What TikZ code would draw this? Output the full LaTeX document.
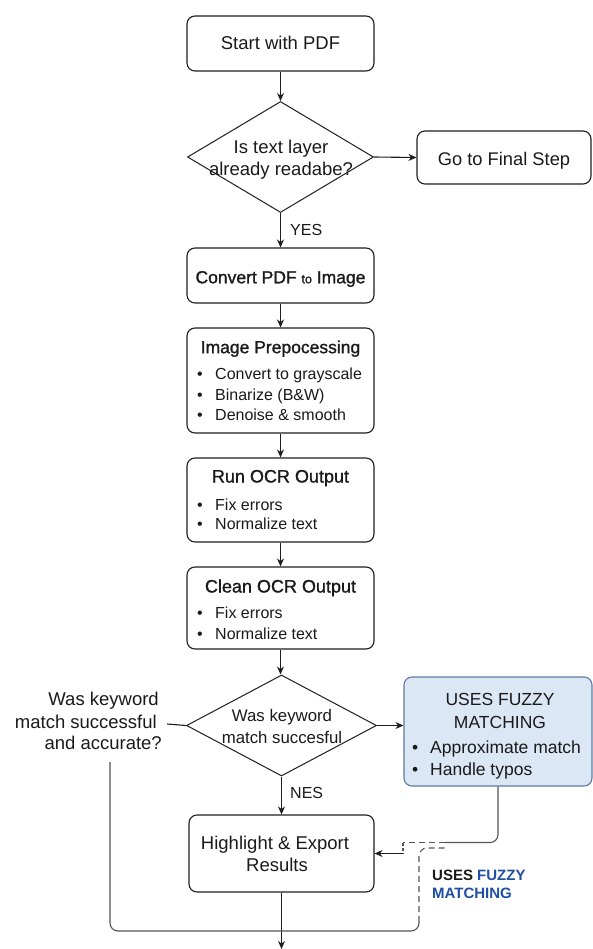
\documentclass[tikz,border=0pt]{standalone}
\usepackage{fontspec}
\setmainfont{Liberation Sans}
\newfontfamily\semib[FakeBold=1.2]{Liberation Sans}
\usetikzlibrary{shapes.geometric,arrows.meta}
\definecolor{lc}{HTML}{1E1E1E}
\definecolor{tc}{HTML}{1A1A1A}
\definecolor{fzfill}{HTML}{DCE7F5}
\definecolor{fzdraw}{HTML}{5C7BA0}
\definecolor{fzblue}{HTML}{1F4FA0}
\definecolor{gl}{HTML}{555555}
\begin{document}
\begin{tikzpicture}[x=1pt,y=-1pt,
  box/.style={draw=lc, line width=1.1pt, rounded corners=8pt, fill=white, inner sep=0pt},
  dia/.style={draw=lc, line width=1pt, shape=diamond, inner sep=0pt},
  arr/.style={draw=lc, line width=1.1pt, -{Stealth[length=8pt,width=7pt]}},
  tx/.style={inner sep=0pt, anchor=base, text=tc},
  fsz/.style={font=\fontsize{#1}{#1}\selectfont},
  glline/.style={draw=gl, line width=1.1pt, rounded corners=8pt},
  gldash/.style={draw=gl, line width=1.1pt, rounded corners=8pt, dash pattern=on 6pt off 4pt}
]
\useasboundingbox (0,0) rectangle (593,949);

% boxes
\node[box, minimum width=187pt, minimum height=55pt] (start) at (280.5,43.5) {};
\node[dia, minimum width=186pt, minimum height=111pt] (d1) at (280.5,157) {};
\node[box, minimum width=174pt, minimum height=53pt] (go) at (504,157.5) {};
\node[box, minimum width=187pt, minimum height=55pt] (conv) at (280.5,275.5) {};
\node[box, minimum width=187pt, minimum height=105pt] (ip) at (280.5,380.5) {};
\node[box, minimum width=187pt, minimum height=84pt] (run) at (280.5,500) {};
\node[box, minimum width=187pt, minimum height=82pt] (clean) at (280.5,608) {};
\node[dia, minimum width=190pt, minimum height=101pt] (d2) at (281.5,725.5) {};
\node[box, minimum width=185pt, minimum height=77pt] (hl) at (281.5,853.5) {};
\node[box, draw=fzdraw, fill=fzfill, minimum width=188pt, minimum height=109pt] (fz) at (498,731.5) {};

% texts
\node[tx, fsz=18.5] (tstart) at (280.5,50) {Start with PDF};
\node[tx, fsz=18.5] (td1a) at (281,153.6) {Is text layer};
\node[tx, fsz=18.5] (td1b) at (281,175.6) {already readabe?};
\node[tx, fsz=18.3] (tgo) at (504,165.6) {Go to Final Step};
\node[tx, fsz=16, anchor=base west] (tyes) at (290,235.7) {YES};
\node[tx, fsz=17.5] (tconv) at (280.5,283.3) {\semib Convert PDF {\fontsize{12.5}{12.5}\selectfont to} Image};

\node[tx, fsz=17.5] (tip) at (280.5,353.2) {\semib Image Prepocessing};
\node[tx, fsz=16, anchor=base west] (bip1) at (197,379.8) {•};
\node[tx, fsz=16, anchor=base west] (tip1) at (215,379.8) {Convert to grayscale};
\node[tx, fsz=16, anchor=base west] (bip2) at (197,400.5) {•};
\node[tx, fsz=16, anchor=base west] (tip2) at (215,400.5) {Binarize (B\&W)};
\node[tx, fsz=16, anchor=base west] (bip3) at (197,420.8) {•};
\node[tx, fsz=16, anchor=base west] (tip3) at (215,420.8) {Denoise \& smooth};

\node[tx, fsz=18] (trun) at (280.5,482.5) {\semib Run OCR Output};
\node[tx, fsz=16, anchor=base west] (brun1) at (197,510.8) {•};
\node[tx, fsz=16, anchor=base west] (trun1) at (215,510.8) {Fix errors};
\node[tx, fsz=16, anchor=base west] (brun2) at (197,529.8) {•};
\node[tx, fsz=16, anchor=base west] (trun2) at (215,529.8) {Normalize text};

\node[tx, fsz=18] (tclean) at (280.5,592.5) {\semib Clean OCR Output};
\node[tx, fsz=16, anchor=base west] (bcl1) at (197,618.8) {•};
\node[tx, fsz=16, anchor=base west] (tcl1) at (215,618.8) {Fix errors};
\node[tx, fsz=16, anchor=base west] (bcl2) at (197,639.8) {•};
\node[tx, fsz=16, anchor=base west] (tcl2) at (215,639.8) {Normalize text};

\node[tx, fsz=16.8] (td2a) at (282,721) {Was keyword};
\node[tx, fsz=16.8] (td2b) at (282,743) {match succesful};

\node[tx, fsz=18.5, anchor=base east] (ll1) at (159,705.6) {Was keyword};
\node[tx, fsz=18.5, anchor=base east] (ll2) at (157,728.6) {match successful};
\node[tx, fsz=18.5, anchor=base east] (ll3) at (162,749.6) {and accurate?};

\node[tx, fsz=16, anchor=base west] (tnes) at (290,798.8) {NES};

\node[tx, fsz=17.5] (tfz1) at (500,705.3) {USES FUZZY};
\node[tx, fsz=17.5] (tfz2) at (500,728.3) {MATCHING};
\node[tx, fsz=17.5, anchor=base west] (bfz1) at (412,753.3) {•};
\node[tx, fsz=17.5, anchor=base west] (tfz3) at (430,753.3) {Approximate match};
\node[tx, fsz=17.5, anchor=base west] (bfz2) at (412,775.3) {•};
\node[tx, fsz=17.5, anchor=base west] (tfz4) at (430,775.3) {Handle typos};

\node[tx, fsz=18.5] (thl1) at (275,849.6) {Highlight \& Export};
\node[tx, fsz=18.5] (thl2) at (277,871.6) {Results};

\node[tx, fsz=15, anchor=base west] (uf1) at (432,880.4) {\bfseries USES \textcolor{fzblue}{FUZZY}};
\node[tx, fsz=15, anchor=base west, text=fzblue] (uf2) at (432,898.4) {\bfseries MATCHING};

% connectors
\draw[arr] (start.south) -- (d1.north);
\draw[arr] (d1.east) -- (go.west);
\draw[arr] (d1.south) -- (conv.north);
\draw[arr] (conv.south) -- (ip.north);
\draw[arr] (ip.south) -- (run.north);
\draw[arr] (run.south) -- (clean.north);
\draw[arr] (clean.south) -- (clean.south |- d2.north);
\draw[arr] (d2.east) -- (fz.west |- d2.east);
\draw[arr] (d2.south) -- (hl.north -| d2.south);
\coordinate (endpt) at (281.5,949);
\draw[arr] (hl.south) -- (endpt);

\coordinate (llr) at (167,724);
\draw[draw=lc, line width=1.1pt] (llr) -- (d2.west);

% loop from left label
\coordinate (lp1) at (110,762);
\coordinate (lp2) at (419,922);
\coordinate (lp3) at (446,848);
\draw[glline] (lp1) |- (419,931) -- (lp2);
\draw[gldash] (lp2) |- (lp3);

% fuzzy return line
\coordinate (fr1) at (445,842.5);
\coordinate (fr2) at (403,842.5);
\coordinate (fr3) at (403,853.5);
\draw[glline] (fz.south) |- (fr1);
\draw[gldash] (fr1) -- (fr2);
\draw[draw=gl, line width=1.1pt, dash pattern=on 3pt off 2pt] (fr2) -- (fr3);
\draw[arr] (fr3) -- (hl.east);
\end{tikzpicture}
\end{document}
